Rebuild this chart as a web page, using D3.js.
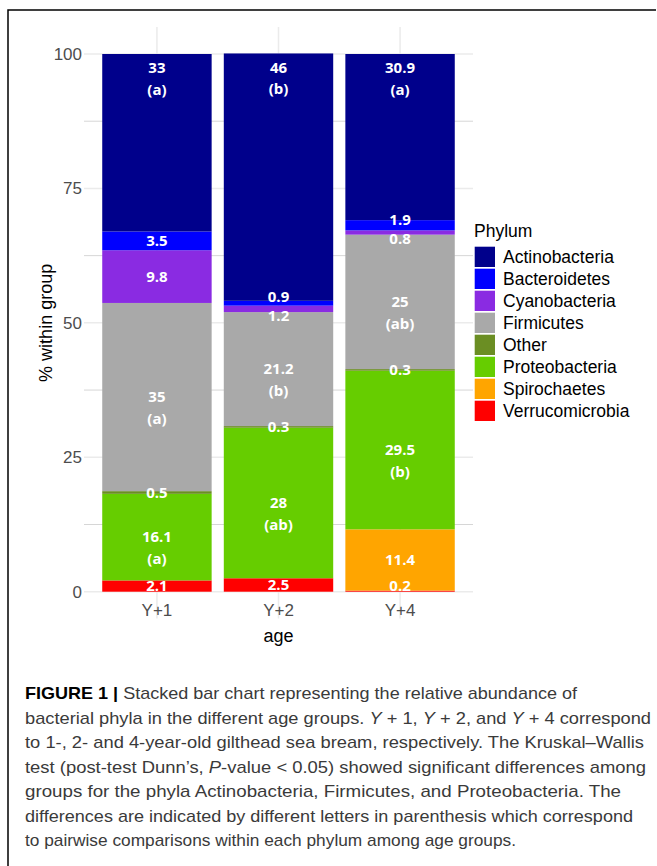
<!DOCTYPE html>
<html lang="en">
<head>
<meta charset="UTF-8">
<title>Relative abundance of bacterial phyla by age</title>
<script src="https://d3js.org/d3.v7.min.js"></script>
<style>
  body { margin: 0; background: #fff; }
  svg { display: block; }
  .tick-label { font-family: "Liberation Sans", Arial, sans-serif; font-size: 17px; fill: #4d4d4d; }
  .bar-label { font-family: "Open Sans", "Noto Sans", sans-serif; font-size: 15px; font-weight: 700; fill: #fff; }
  .legend text { font-family: "Liberation Sans", Arial, sans-serif; font-size: 17.5px; fill: #000; }
  .axis-title { font-family: "Liberation Sans", Arial, sans-serif; font-size: 18px; fill: #000; }
  .caption { font-family: "Liberation Sans", Arial, sans-serif; font-size: 17px; fill: #3a3a3a; }
</style>
</head>
<body>
<svg width="657" height="866"></svg>
<script>
// groups (x axis)
const groups = ["Y+1", "Y+2", "Y+4"];

// phylum order as in legend
const phyla = ["Actinobacteria", "Bacteroidetes", "Cyanobacteria", "Firmicutes",
               "Other", "Proteobacteria", "Spirochaetes", "Verrucomicrobia"];
const phylumColors = ["#00008b", "#0000ff", "#8a2be2", "#a9a9a9",
                      "#6b8e23", "#66cd00", "#ffa500", "#ff0000"];

// % within group, one value per age group
const actinobacteria  = [33, 46, 30.9];
const bacteroidetes   = [3.5, 0.9, 1.9];
const cyanobacteria   = [9.8, 1.2, 0.8];
const firmicutes      = [35, 21.2, 25];
const other           = [0.5, 0.3, 0.3];
const proteobacteria  = [16.1, 28, 29.5];
const spirochaetes    = [0, 0, 11.4];
const verrucomicrobia = [2.1, 2.5, 0.2];

// Dunn post-test letters
const actinoLetters  = ["(a)", "(b)", "(a)"];
const firmicLetters  = ["(a)", "(b)", "(ab)"];
const proteoLetters  = ["(a)", "(ab)", "(b)"];

const yTicks = [0, 25, 50, 75, 100];
const yMinor = [12.5, 37.5, 62.5, 87.5];

const captionLines = [
  [["FIGURE 1 | ", "b"], ["Stacked bar chart representing the relative abundance of", ""]],
  [["bacterial phyla in the different age groups. ", ""], ["Y", "i"], [" + 1, ", ""], ["Y", "i"], [" + 2, and ", ""], ["Y", "i"], [" + 4 correspond", ""]],
  [["to 1-, 2- and 4-year-old gilthead sea bream, respectively. The Kruskal\u2013Wallis", ""]],
  [["test (post-test Dunn\u2019s, ", ""], ["P", "i"], ["-value < 0.05) showed significant differences among", ""]],
  [["groups for the phyla Actinobacteria, Firmicutes, and Proteobacteria. The", ""]],
  [["differences are indicated by different letters in parenthesis which correspond", ""]],
  [["to pairwise comparisons within each phylum among age groups.", ""]]
];
const captionWidths = [552, 626, 619, 621, 596, 608, 491];

// build rows for the stack
const valueMap = {
  Actinobacteria: actinobacteria, Bacteroidetes: bacteroidetes, Cyanobacteria: cyanobacteria,
  Firmicutes: firmicutes, Other: other, Proteobacteria: proteobacteria,
  Spirochaetes: spirochaetes, Verrucomicrobia: verrucomicrobia
};
const letterMap = { Actinobacteria: actinoLetters, Firmicutes: firmicLetters, Proteobacteria: proteoLetters };
const rows = groups.map((g, i) => {
  const r = { group: g };
  phyla.forEach(p => r[p] = valueMap[p][i]);
  return r;
});
const stackKeys = phyla.slice().reverse(); // Verrucomicrobia at the bottom

const svg = d3.select("svg");
const color = d3.scaleOrdinal().domain(phyla).range(phylumColors);

const panel = { left: 84, right: 473 };
const x = d3.scaleBand().domain(groups).range([panel.left, panel.right])
  .paddingInner(0.1).paddingOuter(0.15);
const y = d3.scaleLinear().domain([0, 100]).range([591.7, 54]);

// frame around the figure
svg.append("path")
  .attr("d", "M8,866V10H656")
  .attr("fill", "none").attr("stroke", "#000").attr("stroke-width", 1.5);

// grid
const grid = svg.append("g");
grid.selectAll(".minor").data(yMinor).join("line")
  .attr("x1", panel.left).attr("x2", panel.right)
  .attr("y1", d => y(d)).attr("y2", d => y(d))
  .attr("stroke", "#d6d6d6").attr("stroke-width", 1);
grid.selectAll(".major").data(yTicks).join("line")
  .attr("x1", panel.left).attr("x2", panel.right)
  .attr("y1", d => y(d)).attr("y2", d => y(d))
  .attr("stroke", "#ebebeb").attr("stroke-width", 1.5);
grid.selectAll(".vert").data(groups).join("line")
  .attr("x1", d => x(d) + x.bandwidth() / 2).attr("x2", d => x(d) + x.bandwidth() / 2)
  .attr("y1", y(105)).attr("y2", y(-5))
  .attr("stroke", "#ebebeb").attr("stroke-width", 1.5);

// stacked bars
const series = d3.stack().keys(stackKeys)(rows);
svg.append("g").selectAll("g").data(series).join("g")
  .attr("fill", s => color(s.key))
  .selectAll("rect").data(s => s).join("rect")
  .attr("x", d => x(d.data.group))
  .attr("width", x.bandwidth())
  .attr("y", d => y(d[1]))
  .attr("height", d => y(d[0]) - y(d[1]));

// segment labels
const topKey = stackKeys[stackKeys.length - 1];
const labels = [];
series.forEach((s, si) => {
  s.forEach((d, gi) => {
    const v = d[1] - d[0];
    if (v <= 0) return;
    const txt = String(valueMap[s.key][gi]);
    const letter = letterMap[s.key] ? letterMap[s.key][gi] : null;
    let cy;
    if (s.key === topKey) cy = y(d[1]) + 14;
    else cy = y(Math.max((d[0] + d[1]) / 2, 1.05));
    labels.push({ gi, si, txt, letter, cy, group: d.data.group });
  });
});
// push apart single-line labels that collide inside a bar
groups.forEach((g, gi) => {
  const ls = labels.filter(l => l.gi === gi).sort((a, b) => b.cy - a.cy);
  for (let k = 1; k < ls.length; k++) {
    const a = ls[k - 1], b = ls[k];
    const gap = a.cy - b.cy;
    const need = 19;
    if (gap < need && !a.letter && !b.letter) {
      const c = (a.cy + b.cy) / 2;
      a.cy = c + need / 2; b.cy = c - need / 2;
    }
  }
});
const lg = svg.append("g");
labels.forEach(l => {
  lg.append("text").attr("class", "bar-label")
    .attr("text-anchor", "middle")
    .attr("x", x(l.group) + x.bandwidth() / 2)
    .attr("y", l.cy).attr("dy", "0.35em")
    .text(l.txt);
  if (l.letter) {
    lg.append("text").attr("class", "bar-label")
      .attr("text-anchor", "middle")
      .attr("x", x(l.group) + x.bandwidth() / 2)
      .attr("y", l.cy + 21.5).attr("dy", "0.35em")
      .text(l.letter);
  }
});

// y axis
const yAxis = svg.append("g")
  .attr("transform", `translate(${panel.left},0)`)
  .call(d3.axisLeft(y).tickValues(yTicks).tickSize(0).tickPadding(2));
yAxis.select(".domain").remove();
yAxis.selectAll("text").attr("class", "tick-label").attr("font-size", null).attr("font-family", null);

// x axis
const xAxis = svg.append("g")
  .attr("transform", `translate(0,${y(0)})`)
  .call(d3.axisBottom(x).tickSize(0).tickPadding(12));
xAxis.select(".domain").remove();
xAxis.selectAll("text").attr("class", "tick-label").attr("font-size", null).attr("font-family", null);

// axis titles
svg.append("text").attr("class", "axis-title")
  .attr("x", (panel.left + panel.right) / 2).attr("y", 642)
  .attr("text-anchor", "middle").text("age");
svg.append("text").attr("class", "axis-title")
  .attr("transform", `translate(52,${(y(-5) + y(105)) / 2}) rotate(-90)`)
  .attr("text-anchor", "middle").text("% within group");

// legend
const legend = svg.append("g").attr("class", "legend").attr("transform", "translate(474,0)");
legend.append("text").attr("x", 0).attr("y", 237).text("Phylum");
const items = legend.selectAll(".item").data(phyla).join("g")
  .attr("transform", (d, i) => `translate(0,${246.7 + i * 22})`);
items.append("rect").attr("x", 0.7).attr("width", 20.3).attr("height", 20.3)
  .attr("fill", d => color(d));
items.append("text").attr("x", 29).attr("y", 10.2).attr("dy", "0.35em").text(d => d);

// caption
const cap = svg.append("g");
captionLines.forEach((parts, i) => {
  const t = cap.append("text").attr("class", "caption")
    .attr("x", 25).attr("y", 699 + i * 24.5)
    .attr("textLength", captionWidths[i]).attr("lengthAdjust", "spacingAndGlyphs");
  parts.forEach(([s, st]) => {
    const sp = t.append("tspan").text(s);
    if (st === "b") sp.attr("font-weight", 700).attr("fill", "#000");
    if (st === "i") sp.attr("font-style", "italic");
  });
});
</script>
</body>
</html>
